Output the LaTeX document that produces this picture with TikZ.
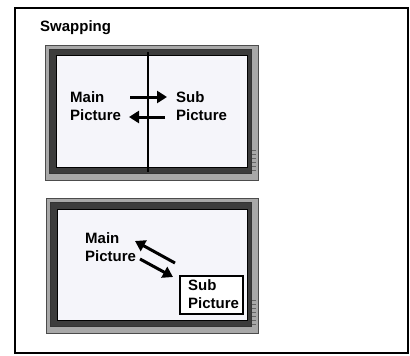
\documentclass[tikz,border=0pt]{standalone}
\usepackage{fontspec}
\setmainfont{Liberation Sans}
\usetikzlibrary{arrows.meta}
\definecolor{screen}{HTML}{F5F5FA}
\definecolor{bezel}{HTML}{3C3C3C}
\definecolor{rim}{HTML}{A8A8A8}
\begin{document}
\begin{tikzpicture}[x=1pt,y=-1pt,
  lbl/.style={font=\bfseries\fontsize{15}{18.5}\selectfont,align=left,inner sep=0pt,anchor=west},
  swaparrow/.style={line width=3pt,-{Triangle[length=10pt,width=12pt]}},
  tvrim/.style={fill=rim,draw=black!70,line width=0.8pt},
  tvbezel/.style={fill=bezel,draw=black!80,line width=0.6pt},
  tvscreen/.style={fill=screen,draw=black,line width=1pt}]
\useasboundingbox (0,0) rectangle (410,356);
\fill[white] (0,0) rectangle (410,356);
\draw[line width=1.2pt] (15,8) rectangle (408,353);
\node[lbl,anchor=base west] (title) at (40,31) {Swapping};
% TV 1
\draw[tvrim] (45,45) rectangle (258,180);
\draw[tvbezel] (49,49) rectangle (251,173);
\draw[tvscreen] (56,55) rectangle (247,167);
\foreach \yy in {150,154,158,162,166,170}{\draw[black!60,line width=0.4pt] (252,\yy) -- (256,\yy);}
\coordinate (dtop) at (148,52);
\coordinate (dbot) at (148,172);
\draw[line width=1.5pt] (dtop) -- (dbot);
\node[lbl] (main1) at (70,106) {Main\\Picture};
\node[lbl] (sub1) at (176,106) {Sub\\Picture};
\coordinate (r1s) at (130,97);
\coordinate (r1e) at (167,97);
\coordinate (l1s) at (165,117);
\coordinate (l1e) at (129,117);
\draw[swaparrow] (r1s) -- (r1e);
\draw[swaparrow] (l1s) -- (l1e);
% TV 2
\draw[tvrim] (46,198) rectangle (258,333);
\draw[tvbezel] (50,202) rectangle (251,326);
\draw[tvscreen] (57,209) rectangle (247,320);
\foreach \yy in {300,304,308,312,316,320,324}{\draw[black!60,line width=0.4pt] (252,\yy) -- (256,\yy);}
\node[lbl] (main2) at (85,247) {Main\\Picture};
\node[draw,line width=1.6pt,fill=white,minimum width=63pt,minimum height=38pt,inner sep=0pt] (subbox) at (211.5,295) {};
\node[lbl] (sub2) at (188,294) {Sub\\Picture};
\coordinate (a2s) at (175,263);
\coordinate (a2e) at (135,241);
\coordinate (b2s) at (140,259);
\coordinate (b2e) at (173,277);
\draw[swaparrow] (a2s) -- (a2e);
\draw[swaparrow] (b2s) -- (b2e);
\end{tikzpicture}
\end{document}
